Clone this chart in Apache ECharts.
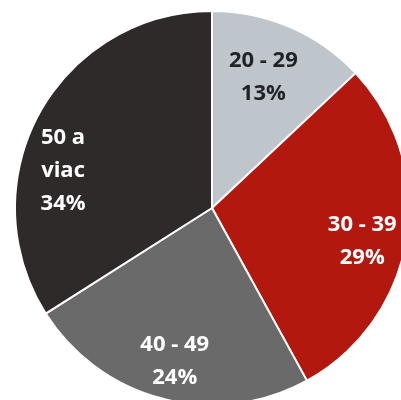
<!DOCTYPE html>
<html>
<head>
<meta charset="utf-8">
<script src="https://cdn.jsdelivr.net/npm/echarts@6/dist/echarts.min.js"></script>
<style>
html,body{margin:0;padding:0;background:#fff;}
#c{width:401px;height:400px;}
</style>
</head>
<body>
<div id="c"></div>
<script>
var categories = ['20 - 29', '30 - 39', '40 - 49', '50 a\nviac'];
var values = [13, 29, 24, 34];

var colors = ['#bec5cb', '#b3180f', '#6a6a6a', '#2d2a29'];
var labelColors = ['#1f2226', '#ffffff', '#ffffff', '#ffffff'];
var labelOffsets = [[11, -38], [50, 17], [-12, 55], [-60, 12]];

var data = categories.map(function (c, i) {
  return {
    name: c,
    value: values[i],
    itemStyle: { color: colors[i] },
    label: { color: labelColors[i], offset: labelOffsets[i] }
  };
});

var chart = echarts.init(document.getElementById('c'), null, { renderer: 'canvas' });
chart.setOption({
  animation: false,
  backgroundColor: '#ffffff',
  series: [{
    type: 'pie',
    center: [212, 208],
    radius: 197,
    startAngle: 90,
    clockwise: true,
    avoidLabelOverlap: false,
    itemStyle: { borderColor: '#ffffff', borderWidth: 2 },
    label: {
      show: true,
      position: 'inside',
      formatter: function (p) { return p.name + '\n' + p.value + '%'; },
      fontFamily: 'Open Sans',
      fontWeight: 'bold',
      fontSize: 22,
      lineHeight: 33,
      align: 'center'
    },
    labelLine: { show: false },
    data: data
  }]
});
</script>
</body>
</html>
